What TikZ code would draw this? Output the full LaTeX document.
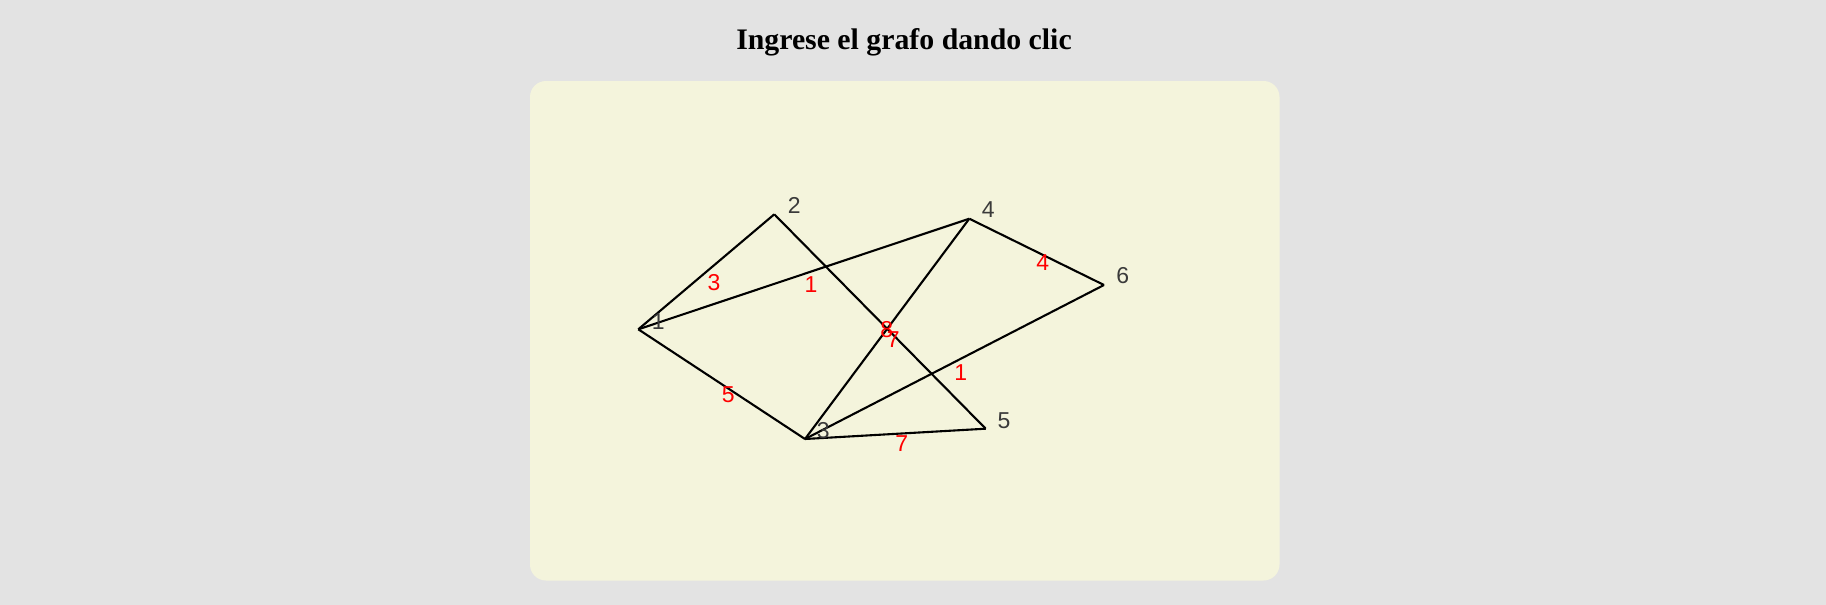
\documentclass[tikz,border=0pt]{standalone}
\usepackage{fontspec}
\setmainfont{Liberation Serif}
\newfontfamily\labelfont{Liberation Sans}
\definecolor{bggray}{HTML}{E3E3E3}
\definecolor{panel}{HTML}{F4F4DC}
\definecolor{vgray}{HTML}{3A3A3A}
\definecolor{wred}{HTML}{FF0000}
\tikzset{
  edge/.style={draw=black, line width=2.1pt},
  vlabel/.style={text=vgray, font=\labelfont\fontsize{23}{23}\selectfont, inner sep=0pt},
  wlabel/.style={text=wred, font=\labelfont\fontsize{23}{23}\selectfont, inner sep=0pt},
}
\begin{document}
\begin{tikzpicture}[x=1pt,y=-1pt]
\useasboundingbox (0,0) rectangle (1826,605);
\fill[bggray] (0,0) rectangle (1826,605);
\fill[panel, rounded corners=16pt] (530,81) rectangle (1279.5,580.5);
\node[anchor=base, inner sep=0pt, font=\bfseries\fontsize{29.8}{30}\selectfont] (title) at (904,49.3) {Ingrese el grafo dando clic};
% vertices
\coordinate (v1) at (638.3,329.3);
\coordinate (v2) at (774.3,214.3);
\coordinate (v3) at (805,439);
\coordinate (v4) at (969.3,218.7);
\coordinate (v5) at (985.7,428.7);
\coordinate (v6) at (1104,285);
% edges
\draw[edge] (v1) -- (v2);
\draw[edge] (v1) -- (v4);
\draw[edge] (v1) -- (v3);
\draw[edge] (v2) -- (v5);
\draw[edge] (v3) -- (v4);
\draw[edge] (v3) -- (v6);
\draw[edge] (v3) -- (v5);
\draw[edge] (v4) -- (v6);
% vertex labels
\node[vlabel] (l1) at (658.3,321.7) {1};
\node[vlabel] (l2) at (794.3,205) {2};
\node[vlabel] (l3) at (823.3,430.7) {3};
\node[vlabel] (l4) at (988.3,210) {4};
\node[vlabel] (l5) at (1004,421) {5};
\node[vlabel] (l6) at (1122.7,276) {6};
% weights
\node[wlabel] (w12) at (714,282.3) {3};
\node[wlabel] (w14) at (811,284.3) {1};
\node[wlabel] (w46) at (1042.7,262.7) {4};
\node[wlabel] (w25) at (886.7,330) {8};
\node[wlabel] (w34) at (893.3,340) {7};
\node[wlabel] (w36) at (960.7,372.7) {1};
\node[wlabel] (w13) at (728.3,395) {5};
\node[wlabel] (w35) at (901.7,444) {7};
\end{tikzpicture}
\end{document}
